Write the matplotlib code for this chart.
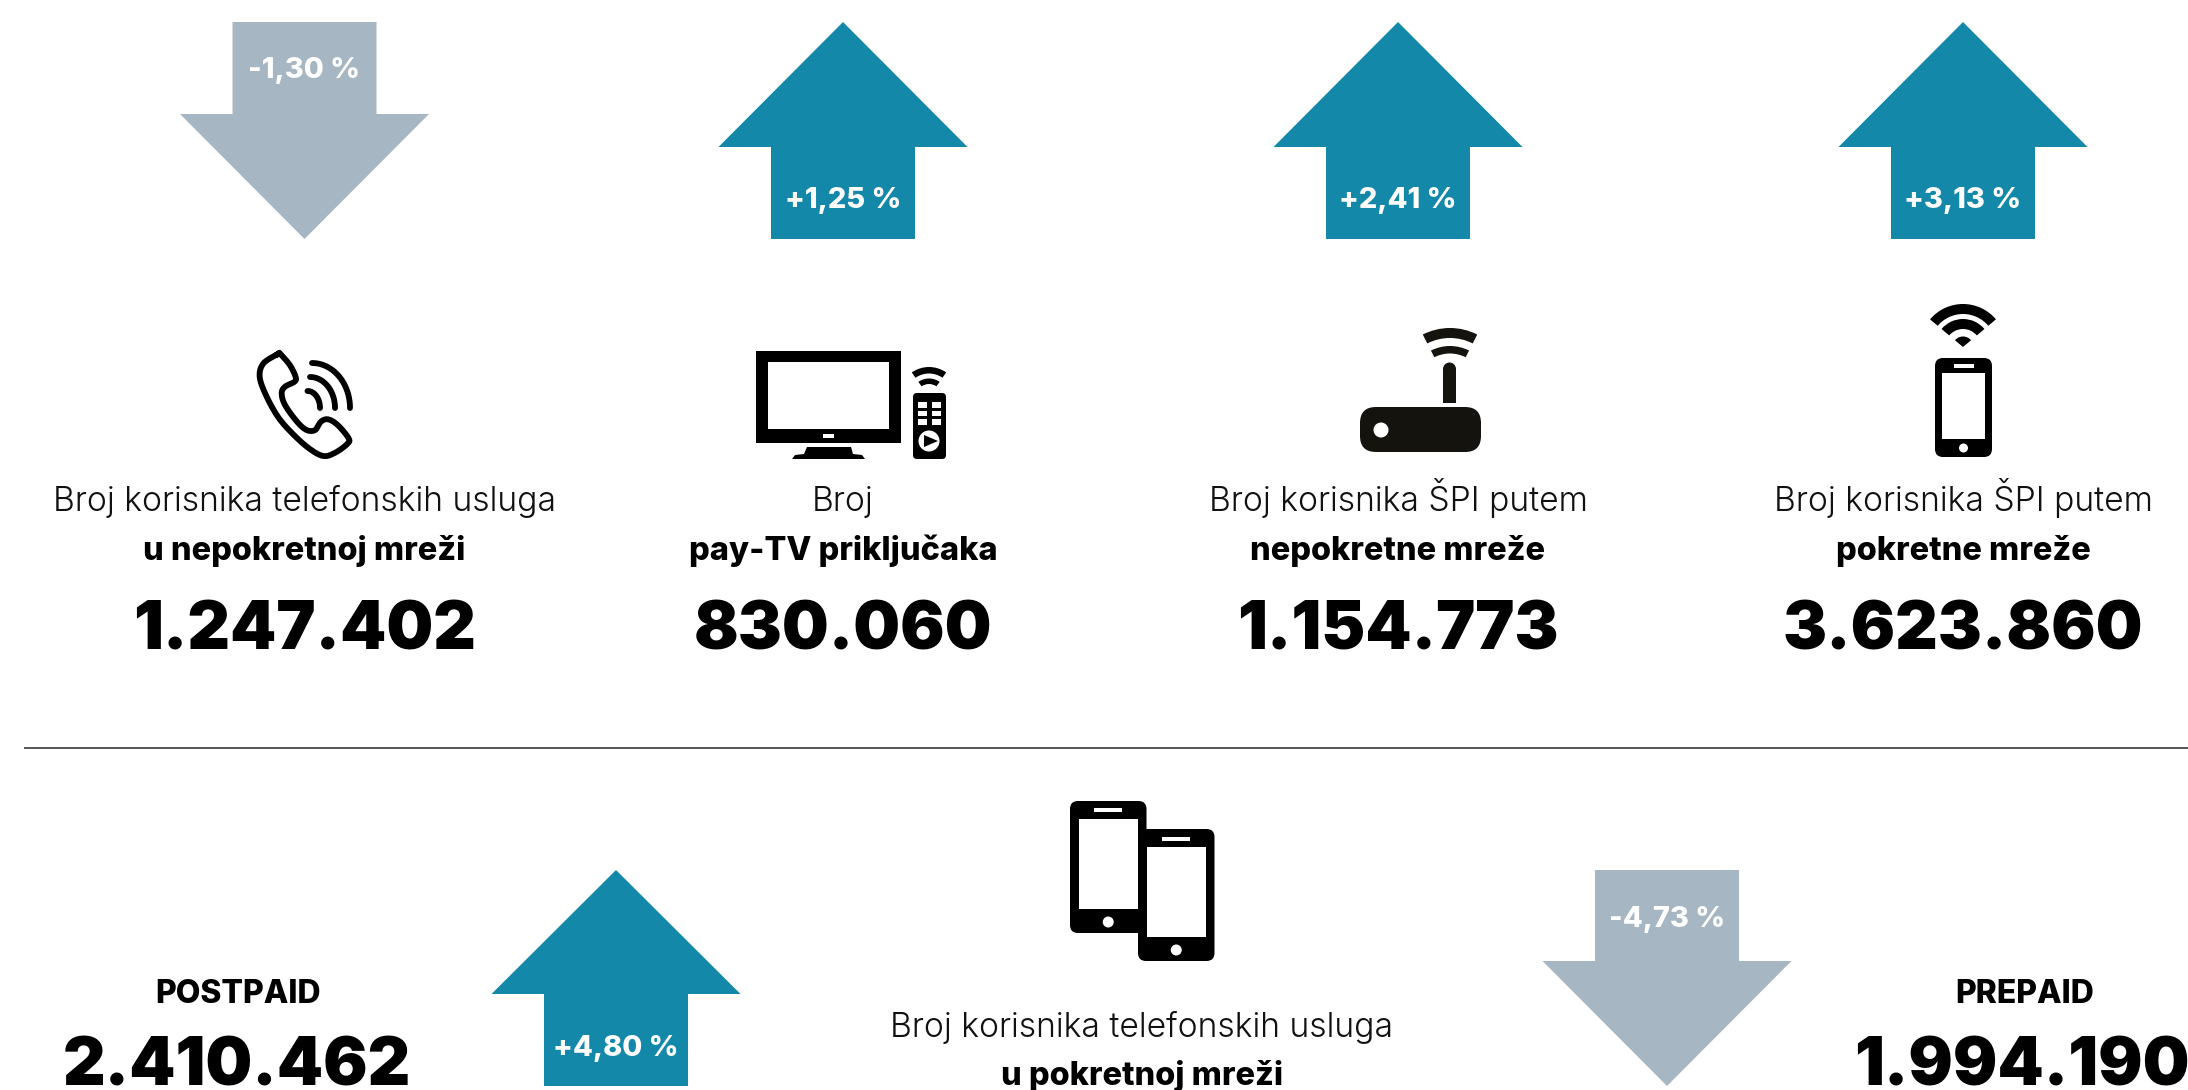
import numpy as np
import matplotlib
matplotlib.use('Agg')
import matplotlib.pyplot as plt
from matplotlib.patches import Polygon, Rectangle, FancyBboxPatch, Wedge, Ellipse

# top row
top_labels = ['Broj korisnika telefonskih usluga', 'Broj', 'Broj korisnika ŠPI putem', 'Broj korisnika ŠPI putem']
top_bold = ['u nepokretnoj mreži', 'pay-TV priključaka', 'nepokretne mreže', 'pokretne mreže']
top_values = [1247402, 830060, 1154773, 3623860]
top_changes = [-1.30, 1.25, 2.41, 3.13]

# bottom row
bottom_names = ['POSTPAID', 'PREPAID']
bottom_values = [2410462, 1994190]
bottom_changes = [4.80, -4.73]
bottom_label = 'Broj korisnika telefonskih usluga'
bottom_bold = 'u pokretnoj mreži'

TEAL = '#1488a8'
GREY = '#a6b6c3'
FONT = 'Inter'

fig = plt.figure(figsize=(21.88, 10.9), dpi=100)
ax = fig.add_axes([0, 0, 1, 1])
ax.set_xlim(0, 2188)
ax.set_ylim(1090, 0)
ax.axis('off')


def px(size):
    return size * 0.72


def num(v):
    return f'{v:,}'.replace(',', '.')


def label(x, y, s, size, weight, col='black'):
    ax.text(x, y, s, ha='center', va='baseline', fontsize=px(size), family=FONT, fontweight=weight, color=col)


def arrow(cx, top, bottom, head, change, ty):
    col = TEAL if change > 0 else GREY
    sw, hw = 72, 124.5
    if change > 0:
        pts = [(cx, top), (cx + hw, top + head), (cx + sw, top + head), (cx + sw, bottom),
               (cx - sw, bottom), (cx - sw, top + head), (cx - hw, top + head)]
    else:
        pts = [(cx, bottom), (cx + hw, bottom - head), (cx + sw, bottom - head), (cx + sw, top),
               (cx - sw, top), (cx - sw, bottom - head), (cx - hw, bottom - head)]
    ax.add_patch(Polygon(pts, closed=True, fc=col, ec='none'))
    label(cx, ty, f'{change:+.2f} %'.replace('.', ','), 29, 800, 'white')


def phone(x0, y0, x1, y1, sx0, sy0, sx1, sy1, sp_y, sp_w, home_y, home_r, col='black'):
    ax.add_patch(FancyBboxPatch((x0 + 6, y0 + 6), x1 - x0 - 12, y1 - y0 - 12, boxstyle='round,pad=6,rounding_size=8', fc=col, ec='none'))
    ax.add_patch(Rectangle((sx0, sy0), sx1 - sx0, sy1 - sy0, fc='white', ec='none'))
    cx = (x0 + x1) / 2
    ax.add_patch(Rectangle((cx - sp_w / 2, sp_y - 2), sp_w, 4, fc='white', ec='none'))
    ax.add_patch(Ellipse((cx, home_y), home_r * 2, home_r * 2, fc='white', ec='none'))


def waves(cx, cy, arcs, half, col='black'):
    for r, w in arcs:
        ax.add_patch(Wedge((cx, cy), r, 270 - half, 270 + half, width=w, fc=col, ec='none'))


def spline(pts, n=12):
    # catmull-rom through the hand traced points
    p = np.array(pts, dtype=float)
    p = np.vstack([p[-1], p, p[0], p[1]])
    out = []
    for i in range(1, len(p) - 2):
        for t in np.linspace(0, 1, n, endpoint=False):
            out.append(0.5 * (2 * p[i] + (p[i + 1] - p[i - 1]) * t
                              + (2 * p[i - 1] - 5 * p[i] + 4 * p[i + 1] - p[i + 2]) * t ** 2
                              + (3 * p[i] - p[i - 1] - 3 * p[i + 1] + p[i + 2]) * t ** 3))
    out.append(p[-2])
    return np.array(out)


# arrows
top_x = [304.5, 843, 1398, 1963]
for x, c in zip(top_x, top_changes):
    arrow(x, 22, 239, 125, c, 78 if c < 0 else 207.5)
arrow(616, 870, 1086, 124, bottom_changes[0], 1056)
arrow(1667, 870, 1086, 125, bottom_changes[1], 927)

# top texts
for x, a, b, v in zip(top_x, top_labels, top_bold, top_values):
    label(x, 511, a, 33.7, 300, '#111111')
    label(x, 560, b, 32.5, 800)
    label(x, 650, num(v), 66, 900)

ax.plot([25, 2188], [748, 748], color='#555555', lw=1.4)

# bottom texts
label(238, 1003, bottom_names[0], 32, 800)
label(237, 1086, num(bottom_values[0]), 66, 900)
label(2025, 1003, bottom_names[1], 32, 800)
label(2022, 1086, num(bottom_values[1]), 66, 900)
label(1142, 1037, bottom_label, 33.7, 300, '#111111')
label(1142, 1085, bottom_bold, 32.5, 800)

# handset icon
h = [(100, 72), (70, 100), (62, 140), (75, 195), (100, 260), (130, 310), (165, 355), (195, 378), (220, 368),
     (245, 342), (248, 325), (225, 285), (205, 268), (190, 275), (178, 300), (160, 300), (140, 275), (115, 225),
     (108, 190), (115, 170), (135, 155), (137, 140), (125, 105), (105, 72)]
hp = spline([(230 + a / 2.09, 330 + b / 3) for a, b in h])
ax.plot(hp[:, 0], hp[:, 1], color='black', lw=4.2, solid_joinstyle='round')
t = np.linspace(0, np.pi / 2, 30)
for x0, y0, x1 in [(312, 363, 350), (310, 377, 335), (307.5, 391, 320)]:
    ax.plot(x0 + (x1 - x0) * np.sin(t), 408 - (408 - y0) * np.cos(t), color='black', lw=4.2, solid_capstyle='round')

# tv icon
ax.add_patch(Rectangle((756, 351), 145, 92, fc='black', ec='none'))
ax.add_patch(Rectangle((768, 362), 121, 67, fc='white', ec='none'))
ax.add_patch(Rectangle((823, 434), 11, 4, fc='white', ec='none'))
ax.add_patch(Polygon([(807, 447), (851, 447), (853, 454), (862, 455), (865, 459), (792, 459), (795, 455), (804, 454)], fc='black', ec='none'))
ax.add_patch(FancyBboxPatch((916, 396), 27, 60, boxstyle='round,pad=3,rounding_size=4', fc='black', ec='none'))
for by in [402, 410.5, 419]:
    for bx in [918, 931.5]:
        ax.add_patch(Rectangle((bx, by), 9, 5.5, fc='white', ec='none'))
ax.add_patch(Ellipse((929, 441), 21, 21, fc='white', ec='none'))
ax.add_patch(Polygon([(924, 435), (938, 441), (924, 447)], fc='black', ec='none'))
waves(929, 397, [(30, 6.5), (18.5, 5.5)], 35)

# router icon
rc = '#14130e'
ax.add_patch(FancyBboxPatch((1376, 423), 89, 13, boxstyle='round,pad=16,rounding_size=16', fc=rc, ec='none'))
ax.add_patch(Ellipse((1381, 430), 15, 15, fc='white', ec='none'))
ax.add_patch(Rectangle((1443, 369), 13, 34, fc=rc, ec='none'))
ax.add_patch(Ellipse((1449.5, 369), 13, 13, fc=rc, ec='none'))
waves(1450, 388, [(60, 10), (42, 7.5)], 27, rc)

# phone + wifi icon
phone(1935, 358, 1992, 457, 1942, 373, 1985, 439, 366, 20, 448, 4.5)
waves(1963, 347, [(43, 10), (28, 10), (10.5, 10.5)], 50)

# two phones
phone(1070, 801, 1146.5, 933, 1079, 819, 1138, 909, 810, 28, 922, 5.5)
phone(1138, 829, 1214.5, 961, 1146.5, 847, 1206, 937, 839, 28, 950, 5.5)

fig.savefig('out.png', dpi=100, facecolor='white')
